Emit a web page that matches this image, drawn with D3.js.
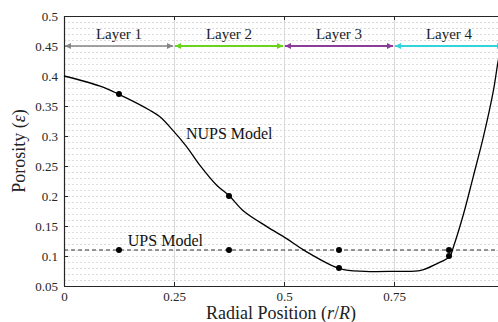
<!DOCTYPE html>
<html>
<head>
<meta charset="utf-8">
<script src="https://cdn.jsdelivr.net/npm/d3@7"></script>
<style>
  body { margin: 0; background: #fff; }
</style>
</head>
<body>
<div id="chart"></div>
<script>
// NUPS porosity profile
const nupsX = [0, 0.082, 0.126, 0.195, 0.218, 0.248, 0.279, 0.309, 0.347, 0.376, 0.408, 0.461, 0.506, 0.547, 0.627,
  0.684, 0.75, 0.811, 0.847, 0.877, 0.885, 0.908, 0.930, 0.953, 0.976, 0.987, 1.0];
const nupsY = [0.40, 0.383, 0.369, 0.343, 0.332, 0.309, 0.282, 0.251, 0.218, 0.20, 0.175, 0.149, 0.129, 0.109, 0.079,
  0.0745, 0.0745, 0.076, 0.087, 0.0995, 0.115, 0.17, 0.232, 0.298, 0.376, 0.426, 0.47];

// layer mid points
const nupsDotX = [0.125, 0.375, 0.625, 0.875];
const nupsDotY = [0.37, 0.20, 0.08, 0.10];
const upsValue = 0.11;
const upsDotX = [0.125, 0.375, 0.625, 0.875];

const layerNames = ['Layer 1', 'Layer 2', 'Layer 3', 'Layer 4'];
const layerStart = [0, 0.25, 0.5, 0.75];
const layerEnd = [0.25, 0.5, 0.75, 1.0];
const layerColors = ['#858585', '#6ad41c', '#8a3c98', '#33d3dc'];
const layerY = 0.45;

const xTicks = [0, 0.25, 0.5, 0.75];
const yTicks = [0.05, 0.1, 0.15, 0.2, 0.25, 0.3, 0.35, 0.4, 0.45, 0.5];

const width = 498, height = 322;
const margin = {top: 16, left: 64, bottom: 36};
const serif = '"Liberation Serif", serif';

const svg = d3.select('#chart').append('svg')
  .attr('width', width)
  .attr('height', height);

const x = d3.scaleLinear().domain([0, 1]).range([margin.left, 504]);
const y = d3.scaleLinear().domain([0.05, 0.5]).range([height - margin.bottom, margin.top]);

// minor dotted grid every 0.01
const minor = d3.range(0.06, 0.5, 0.01);
svg.append('g').selectAll('line')
  .data(minor).enter()
  .append('line')
  .attr('x1', x(0)).attr('x2', x(1))
  .attr('y1', d => Math.round(y(d)) + 0.5).attr('y2', d => Math.round(y(d)) + 0.5)
  .attr('stroke', '#dcdcdc')
  .attr('stroke-width', 1)
  .attr('stroke-dasharray', '2,2');

// vertical grid
svg.append('g').selectAll('line')
  .data(xTicks.slice(1)).enter()
  .append('line')
  .attr('x1', d => Math.round(x(d)) + 0.5).attr('x2', d => Math.round(x(d)) + 0.5)
  .attr('y1', y(0.05)).attr('y2', y(0.5))
  .attr('stroke', '#d9d9d9')
  .attr('stroke-width', 1);

// axes
const axisColor = '#262626';
const xAxis = svg.append('g')
  .attr('transform', `translate(0,${y(0.05)})`)
  .call(d3.axisBottom(x).tickValues(xTicks).tickSizeInner(-4).tickSizeOuter(0).tickPadding(6)
    .tickFormat(d => d === 0 ? '0' : String(d)));
const yAxis = svg.append('g')
  .attr('transform', `translate(${x(0)},0)`)
  .call(d3.axisLeft(y).tickValues(yTicks).tickSizeInner(-4).tickSizeOuter(0).tickPadding(6)
    .tickFormat(d => String(+d.toFixed(2))));
const topAxis = svg.append('g')
  .attr('transform', `translate(0,${y(0.5)})`)
  .call(d3.axisTop(x).tickValues(xTicks.slice(1)).tickSizeInner(-4).tickSizeOuter(0).tickFormat(''));

[xAxis, yAxis, topAxis].forEach(g => {
  g.select('.domain').attr('stroke', axisColor).attr('stroke-width', 1.2);
  g.selectAll('.tick line').attr('stroke', axisColor);
  g.selectAll('.tick text')
    .attr('fill', axisColor)
    .style('font-family', serif)
    .style('font-size', '13px');
});
yAxis.select('.domain').attr('d', `M0.5,${y(0.5)}V${y(0.05)}`);

// layer arrows
function arrowHead(g, px, py, dir, color) {
  const L = 6, W = 3;
  g.append('path')
    .attr('d', `M${px},${py} L${px - dir * L},${py - W} L${px - dir * L},${py + W} Z`)
    .attr('fill', color);
}
layerNames.forEach((name, i) => {
  const g = svg.append('g');
  const x0 = x(layerStart[i]) + 1, x1 = x(layerEnd[i]) - 1, yy = y(layerY);
  g.append('line')
    .attr('x1', x0).attr('x2', x1)
    .attr('y1', yy).attr('y2', yy)
    .attr('stroke', layerColors[i])
    .attr('stroke-width', i === 0 ? 1.6 : 2);
  arrowHead(g, x0, yy, -1, layerColors[i]);
  arrowHead(g, x1, yy, 1, layerColors[i]);
  svg.append('text')
    .attr('x', x((layerStart[i] + layerEnd[i]) / 2))
    .attr('y', y(layerY) - 7)
    .attr('text-anchor', 'middle')
    .attr('fill', '#222')
    .style('font-family', serif)
    .style('font-size', '15px')
    .text(name);
});

// UPS dashed line
svg.append('line')
  .attr('x1', x(0)).attr('x2', x(1))
  .attr('y1', y(upsValue)).attr('y2', y(upsValue))
  .attr('stroke', '#333')
  .attr('stroke-width', 1.2)
  .attr('stroke-dasharray', '4,3');

// NUPS curve
const nupsPts = nupsX.map((d, i) => [d, nupsY[i]]);
svg.append('path')
  .datum(nupsPts)
  .attr('fill', 'none')
  .attr('stroke', '#000')
  .attr('stroke-width', 1.3)
  .attr('d', d3.line().x(d => x(d[0])).y(d => y(d[1])).curve(d3.curveCatmullRom.alpha(0.5)));

// dots
svg.append('g').selectAll('circle')
  .data(nupsDotX.map((d, i) => [d, nupsDotY[i]])).enter()
  .append('circle')
  .attr('cx', d => x(d[0])).attr('cy', d => y(d[1]))
  .attr('r', 3).attr('fill', '#000');
svg.append('g').selectAll('circle')
  .data(upsDotX).enter()
  .append('circle')
  .attr('cx', d => x(d)).attr('cy', y(upsValue))
  .attr('r', 3).attr('fill', '#000');

// labels
svg.append('text')
  .attr('x', x(0.277)).attr('y', 139)
  .attr('fill', '#111')
  .style('font-family', serif)
  .style('font-size', '16px')
  .text('NUPS Model');
svg.append('text')
  .attr('x', x(0.145)).attr('y', 246)
  .attr('fill', '#111')
  .style('font-family', serif)
  .style('font-size', '16px')
  .text('UPS Model');

const xl = svg.append('text')
  .attr('x', (x(0) + x(1)) / 2 - 3).attr('y', 319)
  .attr('text-anchor', 'middle')
  .attr('fill', '#222')
  .style('font-family', serif)
  .style('font-size', '18px');
xl.append('tspan').text('Radial Position (');
xl.append('tspan').style('font-style', 'italic').text('r');
xl.append('tspan').text('/');
xl.append('tspan').style('font-style', 'italic').text('R');
xl.append('tspan').text(')');

const yl = svg.append('text')
  .attr('transform', `translate(25,151) rotate(-90)`)
  .attr('text-anchor', 'middle')
  .attr('fill', '#222')
  .style('font-family', serif)
  .style('font-size', '18px');
yl.append('tspan').text('Porosity (');
yl.append('tspan').style('font-style', 'italic').text('ε');
yl.append('tspan').text(')');
</script>
</body>
</html>
